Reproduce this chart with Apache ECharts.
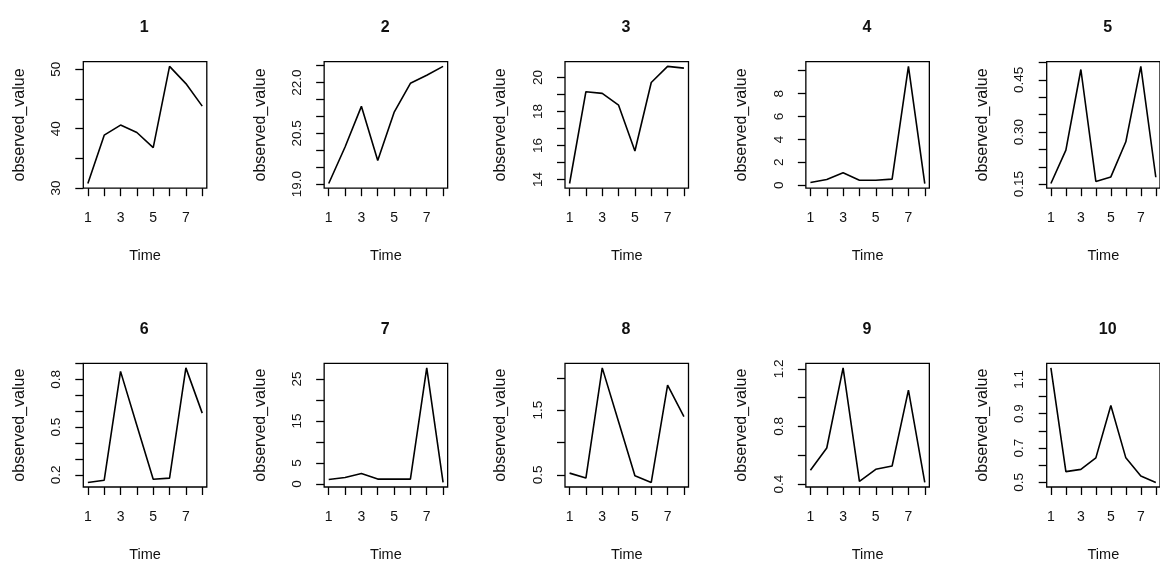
<!DOCTYPE html>
<html>
<head>
<meta charset="utf-8">
<script src="https://cdn.jsdelivr.net/npm/echarts@6/dist/echarts.min.js"></script>
<style>
html, body { margin: 0; padding: 0; background: #fff; }
#main { width: 1160px; height: 563px; }
</style>
</head>
<body>
<div id="main"></div>
<script>
// shared x axis
var time = [1, 2, 3, 4, 5, 6, 7, 8];
var xTicks = [1, 2, 3, 4, 5, 6, 7, 8];
var xLabels = [1, 3, 5, 7];

var titles = ['1', '2', '3', '4', '5', '6', '7', '8', '9', '10'];

// observed values, one array per panel
var values1 = [30.75, 38.9, 40.6, 39.35, 36.8, 50.5, 47.6, 43.8];
var values2 = [19.02, 20.1, 21.3, 19.7, 21.12, 21.98, 22.22, 22.48];
var values3 = [13.76, 19.16, 19.06, 18.37, 15.67, 19.7, 20.65, 20.55];
var values4 = [0.24, 0.5, 1.09, 0.44, 0.44, 0.53, 10.38, 0.15];
var values5 = [0.152, 0.248, 0.48, 0.158, 0.171, 0.272, 0.489, 0.17];
var values6 = [0.153, 0.167, 0.85, 0.51, 0.173, 0.18, 0.872, 0.588];
var values7 = [1.1, 1.57, 2.5, 1.18, 1.18, 1.18, 27.67, 0.39];
var values8 = [0.526, 0.449, 2.154, 1.32, 0.485, 0.382, 1.887, 1.4];
var values9 = [0.495, 0.65, 1.207, 0.418, 0.502, 0.525, 1.052, 0.411];
var values10 = [1.167, 0.563, 0.576, 0.643, 0.948, 0.643, 0.538, 0.5];

// y ticks and labelled ticks per panel
var yTicks1 = [30, 35, 40, 45, 50];             var yLabels1 = [30, 40, 50];
var yTicks2 = [19, 19.5, 20, 20.5, 21, 21.5, 22, 22.5]; var yLabels2 = [19, 20.5, 22];
var yTicks3 = [14, 15, 16, 17, 18, 19, 20];     var yLabels3 = [14, 16, 18, 20];
var yTicks4 = [0, 2, 4, 6, 8, 10];              var yLabels4 = [0, 2, 4, 6, 8];
var yTicks5 = [0.15, 0.2, 0.25, 0.3, 0.35, 0.4, 0.45, 0.5]; var yLabels5 = [0.15, 0.3, 0.45];
var yTicks6 = [0.2, 0.3, 0.4, 0.5, 0.6, 0.7, 0.8, 0.9]; var yLabels6 = [0.2, 0.5, 0.8];
var yTicks7 = [0, 5, 10, 15, 20, 25];           var yLabels7 = [0, 5, 15, 25];
var yTicks8 = [0.5, 1, 1.5, 2];                 var yLabels8 = [0.5, 1.5];
var yTicks9 = [0.4, 0.6, 0.8, 1, 1.2];          var yLabels9 = [0.4, 0.8, 1.2];
var yTicks10 = [0.5, 0.6, 0.7, 0.8, 0.9, 1, 1.1]; var yLabels10 = [0.5, 0.7, 0.9, 1.1];
var yDigits = [0, 1, 0, 0, 2, 1, 0, 1, 1, 1];

var allValues = [values1, values2, values3, values4, values5, values6, values7, values8, values9, values10];
var allTicks = [yTicks1, yTicks2, yTicks3, yTicks4, yTicks5, yTicks6, yTicks7, yTicks8, yTicks9, yTicks10];
var allLabels = [yLabels1, yLabels2, yLabels3, yLabels4, yLabels5, yLabels6, yLabels7, yLabels8, yLabels9, yLabels10];

var font = 'Liberation Sans, Arial, sans-serif';
var ink = '#111';
var chart = echarts.init(document.getElementById('main'));
var option = {
    animation: false,
    title: [],
    grid: [],
    xAxis: [],
    yAxis: [],
    series: []
};

// R style: axis range is data range + 4% on each side
for (var i = 0; i < 10; i = i + 1) {
    var col = i % 5, row = Math.floor(i / 5);
    var boxLeft = 83.3 + 240.85 * col;
    var boxTop = 61.7 + 301.6 * row;
    var vals = allValues[i];
    var lo = Math.min.apply(null, vals), hi = Math.max.apply(null, vals);
    var pad = (hi - lo) * 0.04;
    var digits = yDigits[i];

    option.title.push({
        text: titles[i],
        left: boxLeft + 61,
        top: boxTop - 42,
        textAlign: 'center',
        padding: 0,
        textStyle: { fontSize: 16, fontWeight: 'bold', color: ink, fontFamily: font }
    });
    option.grid.push({
        left: boxLeft, top: boxTop, width: 123.5, height: 126.5,
        show: true, borderColor: '#000', borderWidth: 1.3
    });
    option.xAxis.push({
        gridIndex: i,
        type: 'value',
        min: 1 - 7 * 0.04,
        max: 8 + 7 * 0.04,
        axisLine: { show: false, onZero: false },
        axisTick: { show: true, customValues: xTicks, length: 8, lineStyle: { color: '#000', width: 1.3 } },
        axisLabel: { customValues: xLabels, margin: 23, fontSize: 14, color: ink, fontFamily: font },
        splitLine: { show: false },
        name: 'Time',
        nameLocation: 'middle',
        nameGap: 60,
        nameTextStyle: { fontSize: 14.5, color: ink, fontFamily: font }
    });
    option.yAxis.push({
        gridIndex: i,
        type: 'value',
        min: lo - pad,
        max: hi + pad,
        axisLine: { show: false, onZero: false },
        axisTick: { show: true, customValues: allTicks[i], length: 8, lineStyle: { color: '#000', width: 1.3 } },
        axisLabel: {
            customValues: allLabels[i], rotate: 90, margin: 20, fontSize: 13.5, color: ink, fontFamily: font,
            formatter: (function (d) { return function (v) { return v.toFixed(d); }; })(digits)
        },
        splitLine: { show: false },
        name: 'observed_value',
        nameLocation: 'middle',
        nameGap: 56,
        nameTextStyle: { fontSize: 16, color: ink, fontFamily: font }
    });
    var pts = [];
    for (var j = 0; j < time.length; j = j + 1) {
        pts.push([time[j], vals[j]]);
    }
    option.series.push({
        type: 'line',
        xAxisIndex: i,
        yAxisIndex: i,
        data: pts,
        showSymbol: false,
        lineStyle: { color: '#000', width: 1.6 }
    });
}

chart.setOption(option);
</script>
</body>
</html>
